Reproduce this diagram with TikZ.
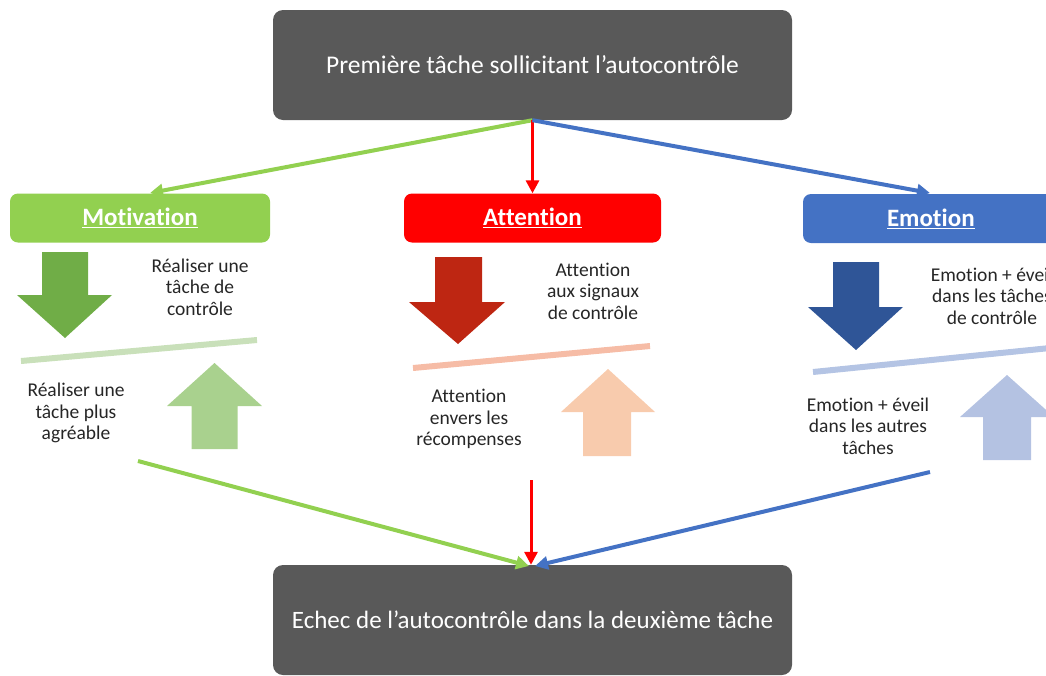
\documentclass[tikz,border=0pt]{standalone}
\usepackage{fontspec}
\setmainfont{Carlito}[Ligatures=NoCommon]
\usetikzlibrary{arrows.meta,calc}
\definecolor{boxgray}{HTML}{595959}
\definecolor{mgreen}{HTML}{92D050}
\definecolor{mred}{HTML}{FF0000}
\definecolor{mblue}{HTML}{4472C4}
\definecolor{dgreen}{HTML}{70AD47}
\definecolor{lgreen}{HTML}{A9D18E}
\definecolor{lgreenline}{HTML}{C9E0BA}
\definecolor{dred}{HTML}{BE2612}
\definecolor{lred}{HTML}{F8CBAD}
\definecolor{lredline}{HTML}{F6BCA6}
\definecolor{dblue}{HTML}{2F5597}
\definecolor{lblue}{HTML}{B4C2E2}
\definecolor{lblueline}{HTML}{B4C4E4}
\tikzset{
  graybox/.style={rectangle, rounded corners=10pt, fill=boxgray, text=white,
    minimum width=519pt, minimum height=110pt, font=\fontsize{25.5}{30}\selectfont, inner sep=0pt},
  catbox/.style={rectangle, rounded corners=8pt, text=white, minimum height=49pt,
    font=\fontsize{25}{30}\selectfont\bfseries, inner sep=0pt},
  body/.style={align=center, text=black!85, font=\fontsize{19.5}{21.5}\selectfont, inner sep=0pt},
  conn/.style={line width=4pt, -{Triangle[length=13pt,width=13pt]}},
  balance/.style={line width=6pt}
}
\begin{document}
\begin{tikzpicture}[x=1pt,y=-1pt]
\useasboundingbox (0,0) rectangle (1046,675);
\clip (0,0) rectangle (1046,675);

% main boxes
\node[graybox] (top) at (532.5,65) {Première tâche sollicitant l’autocontrôle};
\node[graybox, font=\fontsize{25}{30}\selectfont] (bot) at (532.5,620) {Echec de l’autocontrôle dans la deuxième tâche};

% category boxes
\node[catbox, fill=mgreen, minimum width=260pt] (mot) at (140,218) {\underline{Motivation}};
\node[catbox, fill=mred, minimum width=257pt] (att) at (532.5,218) {\underline{Attention}};
\node[catbox, fill=mblue, minimum width=260pt, text width=240pt, align=left] (emo) at (933,218.5) {\hspace{74pt}\underline{Emotion}};

% top connectors
\coordinate (mottip) at (150,193);
\coordinate (emotip) at (930,193);
\draw[conn, mgreen] (top.south) -- (mottip);
\draw[line width=3pt, mred, -{Triangle[length=13pt,width=13pt]}] (top.south) -- (att.north);
\draw[conn, mblue] (top.south) -- (emotip);

% Motivation column
\fill[dgreen] (42,252) -- (88,252) -- (88,295) -- (112,295) -- (65,338) -- (17,295) -- (42,295) -- cycle;
\draw[balance, lgreenline] (21,361) -- (257,340);
\fill[lgreen] (191.5,449) -- (237.5,449) -- (237.5,406) -- (262,406) -- (214.5,363) -- (167,406) -- (191.5,406) -- cycle;
\node[body] (m1) at (200,287) {Réaliser une\\tâche de\\contrôle};
\node[body] (m2) at (76,413) {Réaliser une\\tâche plus\\agréable};

% Attention column
\fill[dred] (435,257) -- (482,257) -- (482,302) -- (505,302) -- (458,344) -- (409,302) -- (435,302) -- cycle;
\draw[balance, lredline] (413,368) -- (650,346);
\fill[lred] (583,456) -- (631,456) -- (631,412) -- (655,412) -- (608,369) -- (561,412) -- (583,412) -- cycle;
\node[body] (a1) at (593,291) {Attention\\aux signaux\\de contrôle};
\node[body] (a2) at (469,419) {Attention\\envers les\\récompenses};

% Emotion column
\fill[dblue] (833,262) -- (879,262) -- (879,307) -- (903,307) -- (856,350) -- (808,307) -- (833,307) -- cycle;
\draw[balance, lblueline] (813,372) -- (1060,347);
\fill[lblue] (983,460) -- (1031,460) -- (1031,417) -- (1054,417) -- (1007,375) -- (960,417) -- (983,417) -- cycle;
\node[body] (e1) at (992,296) {Emotion + éveil\\dans les tâches\\de contrôle};
\node[body] (e2) at (868,426) {Emotion + éveil\\dans les autres\\tâches};

% bottom connectors
\coordinate (gstart) at (138,461);
\coordinate (rstart) at (531,480);
\coordinate (bstart) at (930,472);
\coordinate (gend) at (529,566);
\coordinate (bend) at (535,566);
\draw[conn, mgreen] (gstart) -- (gend);
\draw[conn, mblue] (bstart) -- (bend);
\draw[line width=3pt, mred, -{Triangle[length=13pt,width=13pt]}] (rstart) -- (bot.north -| rstart);
\end{tikzpicture}
\end{document}
